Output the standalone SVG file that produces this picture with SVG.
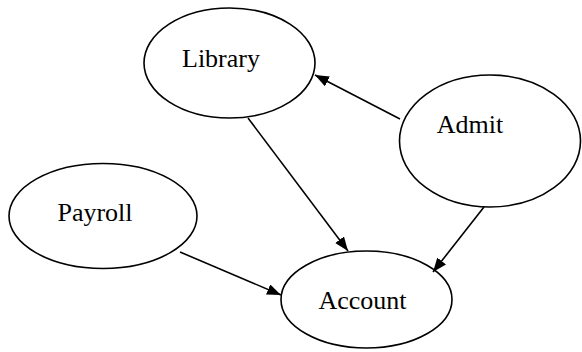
<svg xmlns="http://www.w3.org/2000/svg" width="582" height="352" viewBox="0 0 582 352">
  <style>
    .node ellipse { fill: #ffffff; stroke: #000000; stroke-width: 1.6; }
    .node text { font-family: "Liberation Serif", "Times New Roman", serif; font-size: 26px; fill: #000000; text-anchor: middle; }
    .edge { stroke: #000000; stroke-width: 1.6; fill: none; marker-end: url(#arrow); }
  </style>
  <defs>
    <marker id="arrow" markerUnits="userSpaceOnUse" markerWidth="15" markerHeight="12" refX="14" refY="5.5" orient="auto">
      <path d="M0,0 L14,5.5 L0,11 z" fill="#000000"/>
    </marker>
  </defs>
  <rect width="582" height="352" fill="#ffffff"/>

  <g id="library" class="node">
    <ellipse cx="229.5" cy="63" rx="85.5" ry="55"/>
    <text x="221" y="67">Library</text>
  </g>

  <g id="admit" class="node">
    <ellipse cx="490" cy="141" rx="90.5" ry="66"/>
    <text x="470" y="133">Admit</text>
  </g>

  <g id="payroll" class="node">
    <ellipse cx="103" cy="216" rx="94" ry="52.5"/>
    <text x="95" y="221">Payroll</text>
  </g>

  <g id="account" class="node">
    <ellipse cx="366.5" cy="299.5" rx="85.5" ry="48.5"/>
    <text x="362.5" y="309">Account</text>
  </g>

  <g id="connectors">
    <line class="edge" x1="400" y1="119" x2="315" y2="75"/>
    <line class="edge" x1="248" y1="118" x2="348" y2="251"/>
    <line class="edge" x1="484" y1="207" x2="433" y2="272"/>
    <line class="edge" x1="180" y1="252" x2="281" y2="295"/>
  </g>
</svg>
